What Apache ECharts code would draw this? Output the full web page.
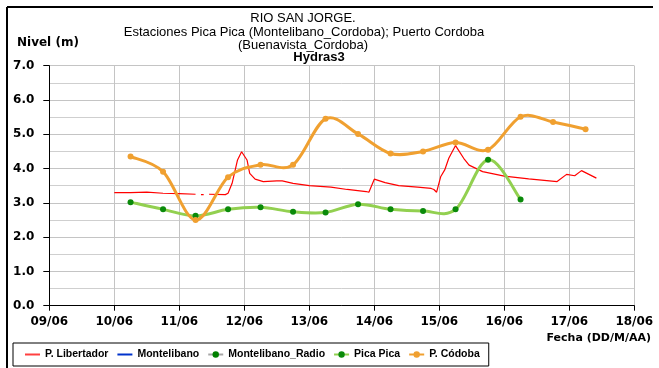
<!DOCTYPE html>
<html>
<head>
<meta charset="utf-8">
<script src="https://cdn.jsdelivr.net/npm/echarts@6/dist/echarts.min.js"></script>
<style>
  html, body { margin: 0; padding: 0; background: #fff; }
  #chart { width: 659px; height: 368px; }
</style>
</head>
<body>
<div id="chart"></div>
<script>
// Day labels on the horizontal axis (one per day, starting 09/06)
const dayLabels = ['09/06', '10/06', '11/06', '12/06', '13/06', '14/06', '15/06', '16/06', '17/06', '18/06'];

// P. Libertador (continuous record); null marks gaps in the record
const libertadorTimes = [
  '10/06 00:00', '10/06 06:00', '10/06 12:00', '10/06 18:00', '11/06 00:00', '11/06 06:00',
  '11/06 07:00', '11/06 08:00', '11/06 09:00', '11/06 10:00', '11/06 11:00', '11/06 17:00',
  '11/06 18:00', '11/06 19:30', '11/06 21:30', '11/06 23:00', '12/06 01:00', '12/06 02:00',
  '12/06 04:00', '12/06 07:00', '12/06 12:00', '12/06 14:00', '12/06 18:00', '13/06 00:00',
  '13/06 08:00', '13/06 14:00', '13/06 21:00', '13/06 22:00', '14/06 00:00', '14/06 04:00',
  '14/06 09:00', '14/06 16:00', '14/06 21:00', '14/06 22:00', '14/06 23:00', '15/06 00:30',
  '15/06 02:00', '15/06 03:30', '15/06 06:00', '15/06 09:00', '15/06 11:00', '15/06 16:00',
  '16/06 00:00', '16/06 09:00', '16/06 19:30', '16/06 23:00', '17/06 02:00', '17/06 04:30',
  '17/06 10:00'
];
const libertadorValues = [
  3.30, 3.30, 3.31, 3.28, 3.27, 3.25,
  null, 3.24, 3.24, null, 3.25, 3.24,
  3.28, 3.57, 4.25, 4.49, 4.25, 3.86,
  3.69, 3.62, 3.64, 3.64, 3.57, 3.50,
  3.46, 3.39, 3.33, 3.31, 3.69, 3.59,
  3.50, 3.46, 3.42, 3.39, 3.31, 3.76,
  3.96, 4.30, 4.67, 4.30, 4.10, 3.91,
  3.78, 3.70, 3.62, 3.83, 3.79, 3.94,
  3.72
];

// Pica Pica (readings at 06:00 and 18:00)
const picaTimes = [
  '10/06 06:00', '10/06 18:00', '11/06 06:00', '11/06 18:00', '12/06 06:00', '12/06 18:00',
  '13/06 06:00', '13/06 18:00', '14/06 06:00', '14/06 18:00', '15/06 06:00', '15/06 18:00',
  '16/06 06:00'
];
const picaValues = [3.02, 2.81, 2.62, 2.81, 2.87, 2.74, 2.72, 2.96, 2.81, 2.76, 2.81, 4.26, 3.10];

// P. Córdoba (readings at 06:00 and 18:00)
const cordobaTimes = [
  '10/06 06:00', '10/06 18:00', '11/06 06:00', '11/06 18:00', '12/06 06:00', '12/06 18:00',
  '13/06 06:00', '13/06 18:00', '14/06 06:00', '14/06 18:00', '15/06 06:00', '15/06 18:00',
  '16/06 06:00', '16/06 18:00', '17/06 06:00'
];
const cordobaValues = [4.35, 3.91, 2.50, 3.75, 4.11, 4.11, 5.45, 5.01, 4.44, 4.50, 4.76, 4.55, 5.51, 5.36, 5.15];

// Stations without readings in this period
const montelibanoValues = [];
const montelibanoRadioValues = [];

// "DD/MM HH:MM" -> fractional days since 09/06 00:00
function dayOffset(stamp) {
  const [date, time] = stamp.split(' ');
  const day = parseInt(date.split('/')[0], 10);
  const [h, m] = time.split(':').map(Number);
  return (day - 9) + (h + m / 60) / 24;
}
function pairs(times, values) {
  return times.map((t, i) => [dayOffset(t), values[i]]);
}

const picaData = pairs(picaTimes, picaValues);
const cordobaData = pairs(cordobaTimes, cordobaValues);

// Spreadsheet-style smoothed curve: cubic Bezier segments whose control
// points follow the neighbouring points (Catmull-Rom, tension 1/6).
function smoothCurve(data, color) {
  return function (params, api) {
    if (params.dataIndex !== 0) return null;
    const p = data.map(d => api.coord(d));
    let path = 'M' + p[0][0] + ',' + p[0][1];
    for (let i = 0; i < p.length - 1; i++) {
      const p0 = p[Math.max(i - 1, 0)], p1 = p[i], p2 = p[i + 1], p3 = p[Math.min(i + 2, p.length - 1)];
      const c1x = p1[0] + (p2[0] - p0[0]) / 6, c1y = p1[1] + (p2[1] - p0[1]) / 6;
      const c2x = p2[0] - (p3[0] - p1[0]) / 6, c2y = p2[1] - (p3[1] - p1[1]) / 6;
      path += ' C' + c1x + ',' + c1y + ' ' + c2x + ',' + c2y + ' ' + p2[0] + ',' + p2[1];
    }
    return {
      type: 'path',
      shape: { pathData: path },
      style: { fill: null, stroke: color, lineWidth: 3, lineJoin: 'round', lineCap: 'round' }
    };
  };
}

const SANS = 'Liberation Sans, Arial, sans-serif';
const WIDE = 'DejaVu Sans, sans-serif';
const PICA_LINE = '#92d050', PICA_DOT = '#0a8a0a';
const CORDOBA = '#f0a030';
const RADIO_LINE = '#a6a6a6', RADIO_DOT = '#008000';

const chart = echarts.init(document.getElementById('chart'), null, { renderer: 'canvas' });

const titleStyle = { fontFamily: SANS, fontSize: 13, fontWeight: 'normal', color: '#000' };
const noMarker = { color: 'rgba(0,0,0,0)', borderWidth: 0 };

chart.setOption({
  backgroundColor: '#ffffff',
  animation: false,
  title: [
    { text: 'RIO SAN JORGE.', left: 298, top: 7, textAlign: 'center', textStyle: titleStyle },
    { text: 'Estaciones Pica Pica (Montelibano_Cordoba); Puerto Cordoba', left: 299, top: 21, textAlign: 'center', textStyle: titleStyle },
    { text: '(Buenavista_Cordoba)', left: 298, top: 34, textAlign: 'center', textStyle: titleStyle },
    { text: 'Hydras3', left: 314, top: 46, textAlign: 'center',
      textStyle: Object.assign({}, titleStyle, { fontWeight: 'bold' }) },
    { text: 'Nivel (m)', left: 12, top: 32,
      textStyle: { fontFamily: WIDE, fontSize: 12, fontWeight: 'bold', color: '#000' } },
    { text: 'Fecha (DD/M/AA)', right: 3, top: 328,
      textStyle: { fontFamily: WIDE, fontSize: 11, fontWeight: 'bold', color: '#000' } }
  ],
  graphic: [
    { type: 'line', shape: { x1: 7, y1: 7, x2: 653, y2: 7 }, style: { stroke: '#000', lineWidth: 2 } },
    { type: 'line', shape: { x1: 7, y1: 7, x2: 7, y2: 368 }, style: { stroke: '#000', lineWidth: 2 } }
  ],
  legend: {
    left: 13, top: 343,
    padding: [6, 9, 6, 11],
    borderColor: '#000', borderWidth: 1,
    itemWidth: 15, itemHeight: 8, itemGap: 8,
    textStyle: { fontFamily: SANS, fontSize: 10.5, fontWeight: 'bold', color: '#000' },
    data: [
      { name: 'P. Libertador', itemStyle: noMarker, lineStyle: { width: 2, color: '#ff4040' } },
      { name: 'Montelibano', itemStyle: noMarker, lineStyle: { width: 2 } },
      { name: 'Montelibano_Radio', itemStyle: { color: RADIO_DOT }, lineStyle: { width: 2, color: RADIO_LINE } },
      { name: 'Pica Pica', lineStyle: { width: 2, color: PICA_LINE, opacity: 1 } },
      { name: 'P. Códoba', lineStyle: { width: 2, color: CORDOBA, opacity: 1 } }
    ]
  },
  grid: { left: 49.3, right: 24.7, top: 65.7, bottom: 62.3, containLabel: false },
  xAxis: {
    type: 'value', min: 0, max: 9, interval: 1,
    axisLine: { lineStyle: { color: '#000', width: 1 } },
    axisTick: { show: true, length: 5, lineStyle: { color: '#000' } },
    axisLabel: {
      margin: 10, color: '#000', fontFamily: WIDE, fontSize: 12, fontWeight: 'bold',
      formatter: v => dayLabels[Math.round(v)]
    },
    splitLine: { show: true, lineStyle: { color: '#c4c4c4', width: 1 } }
  },
  yAxis: {
    type: 'value', min: 0, max: 7, interval: 1,
    axisLine: { show: true, lineStyle: { color: '#000', width: 1 } },
    axisTick: { show: true, length: 6, lineStyle: { color: '#000' } },
    axisLabel: {
      margin: 15, color: '#000', fontFamily: WIDE, fontSize: 12, fontWeight: 'bold',
      formatter: v => v.toFixed(1)
    },
    splitLine: { show: true, lineStyle: { color: '#c4c4c4', width: 1 } },
    minorTick: { show: false, splitNumber: 2 },
    minorSplitLine: { show: true, lineStyle: { color: '#cfcfcf', width: 1 } }
  },
  series: [
    {
      name: 'P. Libertador', type: 'line', data: pairs(libertadorTimes, libertadorValues),
      symbol: 'none', smooth: false, connectNulls: false,
      lineStyle: { color: '#ff0000', width: 1.2 }, itemStyle: { color: '#ff0000' }, z: 3
    },
    {
      name: 'Montelibano', type: 'line', data: montelibanoValues, symbol: 'none',
      lineStyle: { color: '#0033cc', width: 2 }, itemStyle: { color: '#0033cc' }
    },
    {
      name: 'Montelibano_Radio', type: 'line', data: montelibanoRadioValues, symbol: 'circle', symbolSize: 5,
      lineStyle: { color: RADIO_LINE, width: 2 }, itemStyle: { color: RADIO_DOT }
    },
    // Markers (the curve itself is drawn by the custom series below)
    {
      name: 'Pica Pica', type: 'line', data: picaData,
      symbol: 'circle', symbolSize: 6,
      lineStyle: { color: PICA_LINE, width: 3, opacity: 0 }, itemStyle: { color: PICA_DOT }, z: 6
    },
    {
      name: 'P. Códoba', type: 'line', data: cordobaData,
      symbol: 'circle', symbolSize: 6,
      lineStyle: { color: CORDOBA, width: 3, opacity: 0 }, itemStyle: { color: CORDOBA }, z: 7
    },
    {
      name: 'Pica Pica', type: 'custom', data: picaData, encode: { x: 0, y: 1 },
      renderItem: smoothCurve(picaData, PICA_LINE), z: 4, silent: true
    },
    {
      name: 'P. Códoba', type: 'custom', data: cordobaData, encode: { x: 0, y: 1 },
      renderItem: smoothCurve(cordobaData, CORDOBA), z: 5, silent: true
    }
  ]
});
</script>
</body>
</html>
